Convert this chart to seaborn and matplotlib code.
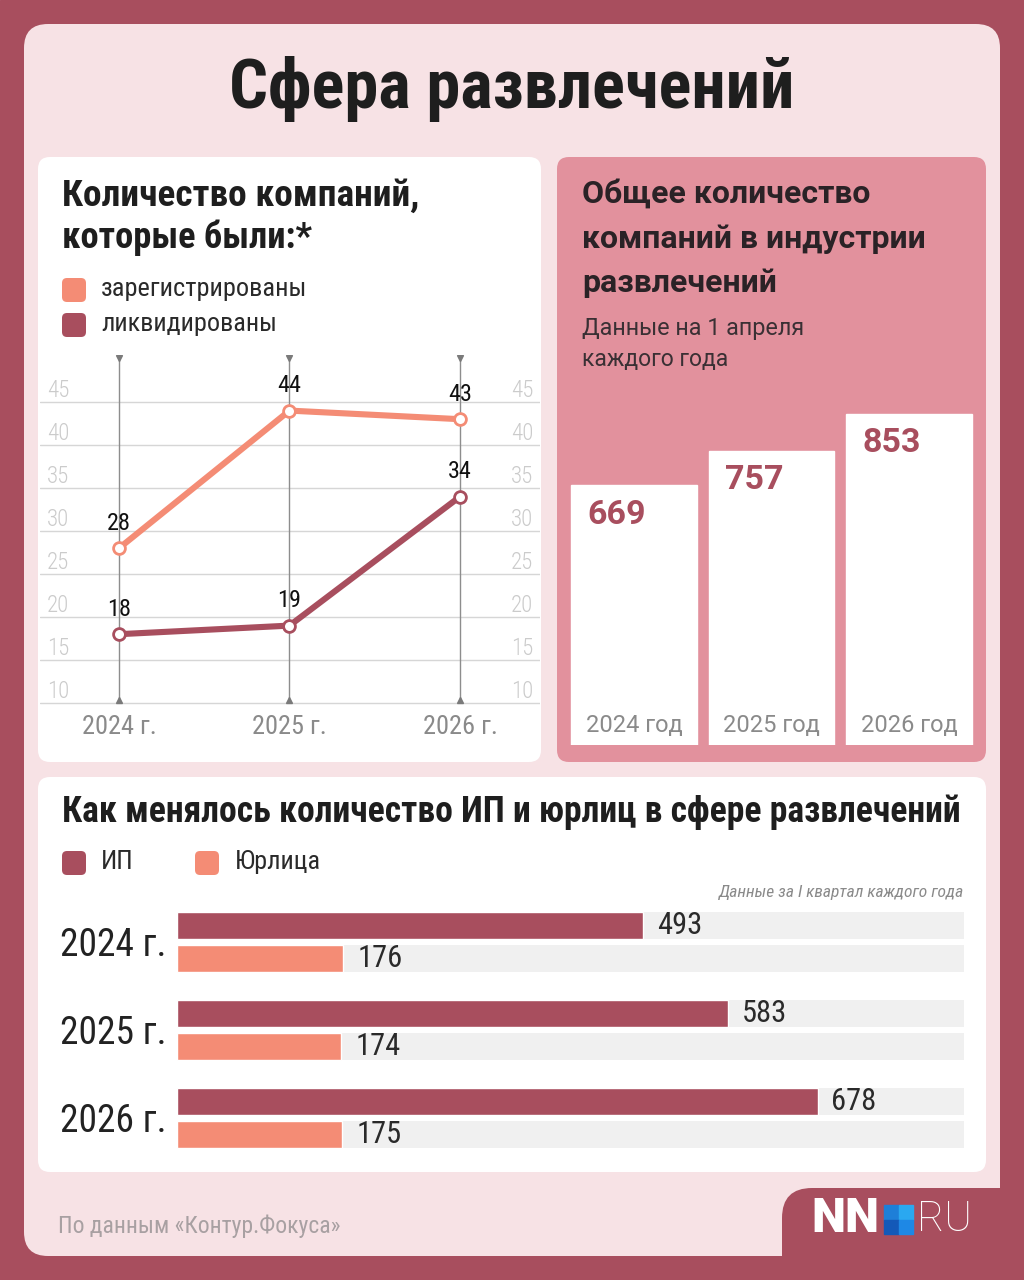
import numpy as np
import pandas as pd
import matplotlib
matplotlib.use("Agg")
import matplotlib.pyplot as plt
import seaborn as sns
from matplotlib.patches import FancyBboxPatch, Rectangle
from matplotlib import font_manager as fm

# ---------------- data ----------------
years = [2024, 2025, 2026]
year_tick_labels = ["2024 г.", "2025 г.", "2026 г."]
registered = [28, 44, 43]
liquidated = [18, 19, 34]
line_yticks = [10, 15, 20, 25, 30, 35, 40, 45]

total_labels = ["2024 год", "2025 год", "2026 год"]
totals = [669, 757, 853]

ip_counts = [493, 583, 678]
legal_counts = [176, 174, 175]
type_names = ["ИП", "Юрлица"]

# ---------------- style ----------------
sns.set_theme(style="white")
names = {f.name for f in fm.fontManager.ttflist}
def pick(c):
    for n in c:
        if n in names:
            return n
    return "DejaVu Sans"
FONT = pick(["Roboto", "Open Sans", "DejaVu Sans"])
COND = pick(["Roboto Condensed", "Roboto"])
plt.rcParams["font.family"] = [FONT, "DejaVu Sans"]
CF = [COND, "DejaVu Sans"]

DARK = "#A84E5E"
SALMON = "#F48C75"
LIGHT = "#F7E2E5"
PINK = "#E2919D"
TXT = "#1E1E1E"

W, H = 1024, 1280
fig = plt.figure(figsize=(W / 100, H / 100), dpi=100)

def rect(x0, y0, x1, y1):
    return [x0 / W, 1 - y1 / H, (x1 - x0) / W, (y1 - y0) / H]

bg = fig.add_axes([0, 0, 1, 1])
bg.set_xlim(0, W)
bg.set_ylim(H, 0)
bg.axis("off")
bg.add_patch(Rectangle((0, 0), W, H, color=DARK, zorder=0))

def rbox(x0, y0, x1, y1, color, r, z=1):
    bg.add_patch(FancyBboxPatch((x0, y0), x1 - x0, y1 - y0,
                                boxstyle=f"round,pad=0,rounding_size={r}",
                                fc=color, ec="none", zorder=z))

rbox(24, 24, 1000, 1256, LIGHT, 24)
rbox(782, 1188, 1060, 1320, DARK, 30, 2)
rbox(38, 157, 541, 762, "white", 12)
rbox(557, 157, 986, 762, PINK, 12)
rbox(38, 777, 986, 1172, "white", 12)

texts_to_fit = []

def T(x, y, s, size, target=None, **kw):
    kw.setdefault("va", "center")
    kw.setdefault("color", TXT)
    t = bg.text(x, y, s, fontsize=size, zorder=5, **kw)
    if target:
        texts_to_fit.append((t, target))
    return t

T(512, 89, "Сфера развлечений", 50, 565, ha="center", weight="bold", family=CF)

# left panel heading + legend
T(62, 196, "Количество компаний,", 25, 358, weight="bold", family=CF)
T(62, 238, "которые были:*", 25, 251, weight="bold", family=CF)
for yy, c, lab, tw in [(290, SALMON, "зарегистрированы", 207), (325, DARK, "ликвидированы", 178)]:
    rbox(62, yy - 12, 86, yy + 12, c, 5, 3)
    T(101, yy - 1, lab, 18, tw, color="#2a2a2a", family=CF)

# right panel heading
T(582, 194, "Общее количество", 23, None, weight="bold", color="#2a2226")
T(582, 239, "компаний в индустрии", 23, None, weight="bold", color="#2a2226")
T(582, 283, "развлечений", 23, None, weight="bold", color="#2a2226")
T(582, 329, "Данные на 1 апреля", 16.5, 222, color="#3a3034")
T(582, 360, "каждого года", 16.5, None, color="#3a3034")

# bottom panel heading + legend
T(62, 812, "Как менялось количество ИП и юрлиц в сфере развлечений", 24, 900,
  weight="bold", family=CF)
rbox(62, 851, 86, 875, DARK, 5, 3)
T(101, 862, type_names[0], 19, None, color="#2a2a2a", family=CF)
rbox(195, 851, 219, 875, SALMON, 5, 3)
T(235, 862, type_names[1], 19, 86, color="#2a2a2a", family=CF)
T(964, 893, "Данные за I квартал каждого года", 12.5, 246, ha="right",
  color="#8a8a8a", style="italic", family=CF)

# footer
T(58, 1226, "По данным «Контур.Фокуса»", 16, 282, color="#A8A0A2", family=CF)
T(811, 1219, "NN", 31, 68, color="white", weight="black")
for (x0, y0, c) in [(884, 1205, "#1E7FD8"), (898.5, 1205, "#2AA8F0"),
                    (884, 1219.5, "#1459B8"), (898.5, 1219.5, "#1E88E5")]:
    bg.add_patch(Rectangle((x0, y0), 14.5, 14.5, color=c, zorder=5))
T(917, 1219, "RU", 30, 55, color="white", weight="light")

# ---------------- line chart ----------------
ax1 = fig.add_axes(rect(40, 355, 540, 705))
ax1.patch.set_alpha(0)
pxx, pxy = 170.5, 8.6
ax1.set_xlim(2024 - 79 / pxx, 2024 + 421 / pxx)
ax1.set_ylim(10 - 2 / pxy, 10 - 2 / pxy + 350 / pxy)
ax1.set_yticks(line_yticks)
ax1.yaxis.grid(True, color="#D6D6D6", lw=1)
ax1.tick_params(axis="y", left=False, labelleft=False)
ax1.set_xticks(years, labels=year_tick_labels)
ax1.tick_params(axis="x", length=0, pad=7, labelsize=19, labelcolor="#8a8a8a")
for lab in ax1.get_xticklabels():
    lab.set_family(CF)
for s in ax1.spines.values():
    s.set_visible(False)
top_v = 45 + 44 / pxy
ax1.vlines(years, 10, top_v, color="#8d8d8d", lw=1, zorder=2)
ax1.plot(years, [top_v] * 3, "v", ms=4, color="#7a7a7a", zorder=2)
ax1.plot(years, [10.3] * 3, "^", ms=4, color="#7a7a7a", zorder=2)

for vals, col in [(registered, SALMON), (liquidated, DARK)]:
    sns.lineplot(x=years, y=vals, ax=ax1, color=col, lw=4.4, marker="o", ms=8.5,
                 markerfacecolor="white", markeredgecolor=col, markeredgewidth=2, zorder=4)
    for x, v in zip(years, vals):
        ax1.annotate(str(v), (x, v), xytext=(0, 18), textcoords="offset points",
                     ha="center", va="center", fontsize=17.5, color="#111",
                     family=CF, zorder=6)
ax1.set_xlabel("")
ax1.set_ylabel("")
for t in line_yticks:
    for xf, ha in [(0.014, "left"), (0.986, "right")]:
        ax1.annotate(str(t), (xf, t), xycoords=("axes fraction", "data"),
                     xytext=(0, 8.5), textcoords="offset points", ha=ha, va="center",
                     fontsize=16.5, color="#CBCBCB", fontweight="light", family=CF)

# ---------------- total bars ----------------
ax2 = fig.add_axes(rect(557, 157, 986, 745))
ax2.patch.set_alpha(0)
sns.barplot(x=total_labels, y=totals, color="white", saturation=1, width=0.916, ax=ax2)
ax2.set_xlim(-0.56, 2.56)
ax2.set_ylim(0, 588 / 0.388)
ax2.axis("off")
for p, v, lab in zip(ax2.patches, totals, total_labels):
    ax2.annotate(str(v), (p.get_x(), p.get_height()), xytext=(12, -21),
                 textcoords="offset points", ha="left", va="center",
                 fontsize=24.5, weight="bold", color=DARK)
    ax2.annotate(lab, (p.get_x() + p.get_width() / 2, 0), xytext=(0, 14),
                 textcoords="offset points", ha="center", va="center",
                 fontsize=17, color="#8a8a8a")

# ---------------- horizontal bars ----------------
df = pd.DataFrame({
    "year": year_tick_labels * 2,
    "type": [type_names[0]] * 3 + [type_names[1]] * 3,
    "value": ip_counts + legal_counts,
})
ax3 = fig.add_axes(rect(177, 898, 964, 1162))
ax3.patch.set_alpha(0)
sns.barplot(data=df, y="year", x="value", hue="type", orient="h",
            palette=[DARK, SALMON], width=0.74, gap=0.17, saturation=1,
            legend=False, ax=ax3, zorder=3)
XMAX = 833
ax3.set_xlim(0, XMAX)
ax3.set_ylim(2.5, -0.5)
for p in list(ax3.patches):
    ax3.add_patch(Rectangle((0, p.get_y()), XMAX, p.get_height(),
                            color="#F0F0F0", zorder=1, lw=0))
for cont in ax3.containers:
    ax3.bar_label(cont, padding=10, fontsize=22, color="#2a2a2a", family=CF)
ax3.set_xlabel("")
ax3.set_ylabel("")
ax3.tick_params(axis="x", bottom=False, labelbottom=False)
ax3.tick_params(axis="y", left=False, pad=1.5, labelsize=27, labelcolor="#222")
for lab in ax3.get_yticklabels():
    lab.set_family(CF)
for s in ax3.spines.values():
    s.set_visible(False)

# fit headline widths
r = fig.canvas.get_renderer()
for t, target in texts_to_fit:
    w = t.get_window_extent(renderer=r).width
    t.set_fontsize(t.get_fontsize() * target / w)

fig.savefig("out.png", dpi=100)
